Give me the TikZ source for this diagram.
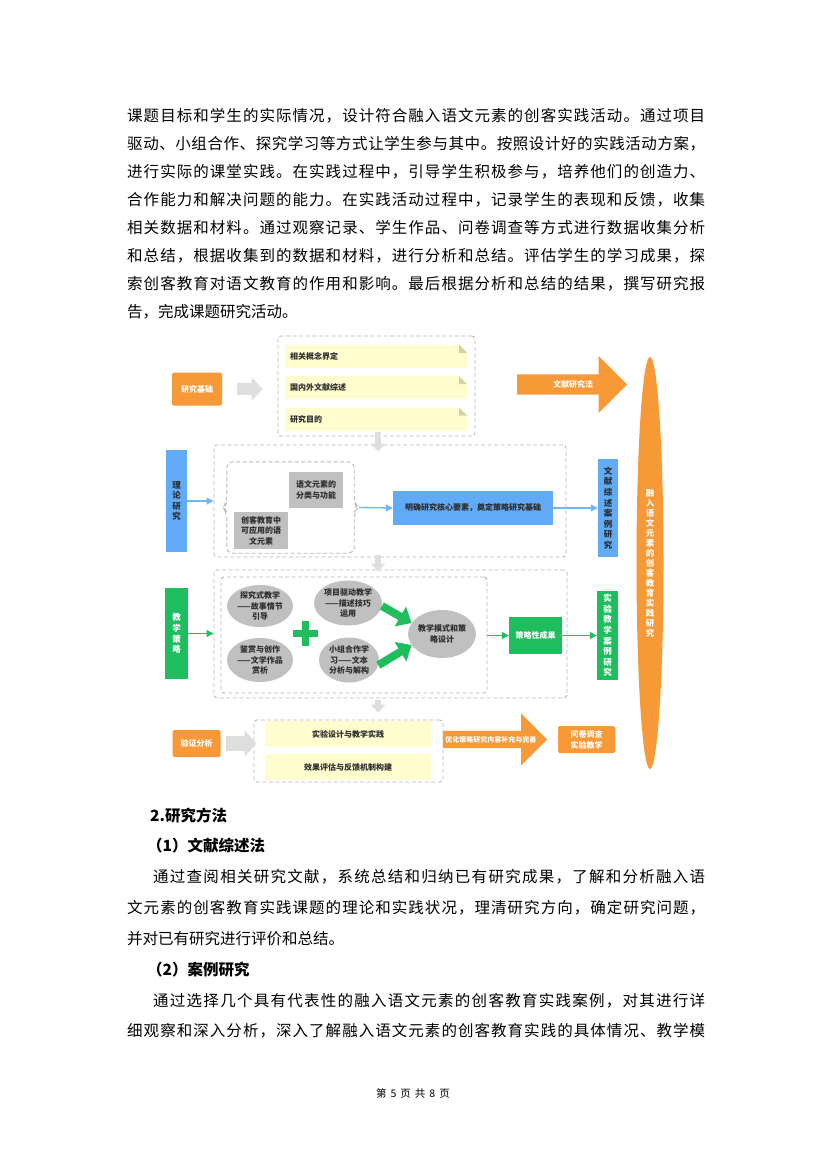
\documentclass[tikz,border=0pt]{standalone}
\usepackage{fontspec}
\setmainfont{Noto Sans CJK SC}
\usepackage{tikz}
\usetikzlibrary{arrows.meta,positioning,shapes.geometric,shapes.arrows}

\definecolor{ora}{RGB}{247,153,55}
\definecolor{blu}{RGB}{96,170,246}
\definecolor{blar}{RGB}{110,182,246}
\definecolor{grn}{RGB}{30,190,95}
\definecolor{ylw}{RGB}{255,253,205}
\definecolor{ear}{RGB}{214,210,160}
\definecolor{dsh}{RGB}{185,185,185}
\definecolor{gbox}{RGB}{192,192,192}
\definecolor{garr}{RGB}{222,222,222}
\definecolor{ink}{RGB}{45,45,45}

% spread the characters of one line over a given width
\makeatletter
\def\spr@ad#1#2\@nil{#1\ifx\relax#2\relax\else\hfill\spr@ad#2\@nil\fi}
\newcommand\jline[2]{\hbox to #1{\spr@ad#2\@nil}}
\makeatother
\newcommand\dgfont{\fontsize{8}{10.5}\selectfont\bfseries}
\newcommand\dogear[1]{%
  \fill[white] (#1.north east) -- ++(-8,0) -- ++(8,8) -- cycle;
  \fill[ear] (#1.north east) ++(-8,0) -- ++(0,8) -- ++(8,0) -- cycle;}

\begin{document}
\begin{tikzpicture}[x=1pt, y=-1pt,
  para/.style={anchor=west, inner sep=0pt, font=\fontsize{15.5}{18}\selectfont},
  hd/.style={para, font=\fontsize{15.5}{18}\selectfont\bfseries},
  tag/.style={fill=ora, text=white, rounded corners=1.5pt, inner sep=0pt, font=\dgfont, align=center},
  vtag/.style={inner sep=0pt, align=center, font=\fontsize{8.5}{10.6}\selectfont\bfseries},
  frame/.style={draw=dsh, dash pattern=on 4pt off 2.5pt, line width=0.9pt, rounded corners=3pt, inner sep=0pt},
  yel/.style={fill=ylw, text=ink, font=\dgfont, inner xsep=5pt, inner ysep=0pt, text width=172pt, align=left, minimum height=23pt},
  yelc/.style={fill=ylw, text=ink, font=\dgfont, inner sep=0pt, minimum width=166pt, minimum height=26pt},
  gry/.style={fill=gbox, text=ink, font=\dgfont, inner sep=0pt, align=center},
  oval/.style={ellipse, fill=gbox, text=ink, font=\dgfont, inner sep=0pt, align=center},
  bigarr/.style={single arrow, fill=ora, text=white, inner sep=0pt, font=\dgfont},
  garrow/.style={draw=garr, line width=12pt, -{Triangle[length=11pt,width=23pt]}},
  gdown/.style={draw=garr, line width=6pt, -{Triangle[length=8pt,width=14pt]}},
  barrow/.style={draw=blar, line width=1.3pt, -{Triangle[length=7pt,width=7pt]}},
  grarrow/.style={draw=grn, line width=1.3pt, -{Triangle[length=7pt,width=7pt]}},
  fat/.style={draw=grn, line width=8pt, -{Triangle[length=13pt,width=22pt]}}
]
\fill[white] (0,0) rectangle (827,1170);
\useasboundingbox (0,0) rectangle (827,1170);

% text above the figure
\node[para] (t1) at (127,116) {\jline{578pt}{课题目标和学生的实际情况，设计符合融入语文元素的创客实践活动。通过项目}};
\node[para] (t2) at (127,144) {\jline{578pt}{驱动、小组合作、探究学习等方式让学生参与其中。按照设计好的实践活动方案，}};
\node[para] (t3) at (127,172) {\jline{578pt}{进行实际的课堂实践。在实践过程中，引导学生积极参与，培养他们的创造力、}};
\node[para] (t4) at (127,200) {\jline{578pt}{合作能力和解决问题的能力。在实践活动过程中，记录学生的表现和反馈，收集}};
\node[para] (t5) at (127,228) {\jline{578pt}{相关数据和材料。通过观察记录、学生作品、问卷调查等方式进行数据收集分析}};
\node[para] (t6) at (127,256) {\jline{578pt}{和总结，根据收集到的数据和材料，进行分析和总结。评估学生的学习成果，探}};
\node[para] (t7) at (127,284) {\jline{578pt}{索创客教育对语文教育的作用和影响。最后根据分析和总结的结果，撰写研究报}};
\node[para] (t8) at (127,312) {告，完成课题研究活动。};

% research basis
\node[tag, minimum width=50pt, minimum height=33pt] (base) at (197,389) {研究基础};
\node[frame, minimum width=197pt, minimum height=100pt] (topf) at (376.5,386) {};
\node[yel] (y1) at (376,356.5) {相关概念界定};
\node[yel, below=8pt of y1] (y2) {国内外文献综述};
\node[yel, below=8pt of y2] (y3) {研究目的};
\dogear{y1}\dogear{y2}\dogear{y3}
\draw[garrow, shorten <=15pt, shorten >=15pt] (base.east) -- (base.east -| topf.west);
\node[bigarr, anchor=west, minimum height=110pt, single arrow head extend=18.5pt, inner ysep=6pt] (lm) at (517,384.5) {\makebox[0pt]{\hspace{12pt}文献研究法}};

% goal
\node[ellipse, fill=ora, text=white, inner sep=0pt, minimum width=27pt, minimum height=412pt,
  font=\fontsize{8.5}{10}\selectfont\bfseries, align=center] (goal) at (650,563)
  {融\\入\\语\\文\\元\\素\\的\\创\\客\\教\\育\\实\\践\\研\\究};

\coordinate (axis) at (378,0);

% theory
\node[vtag, fill=blu, text=ink, minimum width=21pt, minimum height=102pt] (theo) at (176.5,501) {理\\论\\研\\究};
\node[frame, minimum width=352pt, minimum height=112pt] (thf) at (390,501) {};
\node[inner sep=0pt, minimum width=127pt, minimum height=91pt] (in) at (290.5,507.5) {};
\draw[frame, rounded corners=6pt] ([xshift=-4pt]in.west) -- ([yshift=5pt]in.west) -- (in.north west)
  -- (in.north east) -- ([yshift=5pt]in.east) -- ([xshift=4pt]in.east) -- ([yshift=-5pt]in.east)
  -- (in.south east) -- (in.south west) -- ([yshift=-5pt]in.west) -- cycle;
\node[gry, minimum width=54pt, minimum height=36pt] (cls) at (316,490) {语文元素的\\分类与功能};
\node[gry, minimum width=54pt, minimum height=37pt] (app) at (261,530.5) {创客教育中\\可应用的语\\文元素};
\node[fill=blu, text=ink, font=\dgfont, inner sep=0pt, minimum width=160pt, minimum height=34pt] (core) at (473,508) {明确研究核心要素，奠定策略研究基础};
\node[vtag, fill=blu, text=ink, minimum width=20pt, minimum height=98pt] (lit) at (608,508) {文\\献\\综\\述\\案\\例\\研\\究};
\draw[barrow] (theo.east) -- (theo.east -| thf.west);
\draw[barrow] ([xshift=5pt]in.east) -- (core.west);
\draw[barrow] (core.east) -- (core.east -| lit.west);
\draw[gdown, shorten <=-4pt, shorten >=-7pt] (topf.south -| axis) -- (thf.north -| axis);

% teaching strategy
\node[vtag, fill=grn, text=white, minimum width=23pt, minimum height=91pt] (strat) at (176.5,633.5) {教\\学\\策\\略};
\node[frame, minimum width=353pt, minimum height=128pt] (tef) at (390.5,634) {};
\node[frame, minimum width=266pt, minimum height=116pt] (tei) at (354,635) {};
\node[oval, minimum width=66pt, minimum height=42pt] (inq) at (260,606) {探究式教学\\——故事情节\\引导};
\node[oval, minimum width=66pt, minimum height=44pt] (apr) at (260,660) {鉴赏与创作\\——文学作品\\赏析};
\node[oval, minimum width=62pt, minimum height=45pt] (proj) at (348,603) {项目驱动教学\\——描述技巧\\运用};
\node[oval, minimum width=60pt, minimum height=45pt] (grp) at (349,660) {小组合作学\\习——文本\\分析与解构};
\node[oval, minimum width=56pt, minimum height=48pt] (mode) at (442,634) {教学模式和策\\略设计};
\coordinate (plus) at (305,633);
\fill[grn] ([xshift=-12.5pt,yshift=-3.5pt]plus) rectangle ([xshift=12.5pt,yshift=3.5pt]plus);
\fill[grn] ([xshift=-3.5pt,yshift=-12.5pt]plus) rectangle ([xshift=3.5pt,yshift=12.5pt]plus);
\draw[fat] (proj.-5) -- (mode.160);
\draw[fat] (grp.-10) -- (mode.200);
\node[fill=grn, text=white, font=\dgfont, inner sep=0pt, minimum width=53pt, minimum height=37pt] (res) at (535.5,635.5) {策略性成果};
\node[vtag, fill=grn, text=white, minimum width=21pt, minimum height=89pt] (expt) at (607.5,635.5) {实\\验\\教\\学\\案\\例\\研\\究};
\draw[grarrow] (strat.east) -- (strat.east -| tef.west);
\draw[grarrow] (tei.east |- res.west) -- (res.west);
\draw[grarrow] (res.east) -- (res.east -| expt.west);
\draw[gdown, shorten <=-2pt, shorten >=-2pt] (thf.south -| axis) -- (tef.north -| axis);

% verification
\node[tag, minimum width=48pt, minimum height=27pt] (ver) at (196.5,743.5) {验证分析};
\node[frame, minimum width=189pt, minimum height=62pt] (vef) at (348.5,751) {};
\node[yelc] (v1) at (348,734) {实验设计与教学实践};
\node[yelc, below=7pt of v1] (v2) {效果评估与反馈机制构建};
\draw[garrow, line width=15pt, -{Triangle[length=12pt,width=26pt]}, shorten <=5pt, shorten >=-3pt] (ver.east) -- (ver.east -| vef.west);
\draw[gdown, shorten <=2pt, shorten >=7pt] (tef.south -| axis) -- (vef.north -| axis);
\node[bigarr, anchor=west, minimum height=104pt, single arrow head extend=17.5pt, inner ysep=5pt,
  font=\fontsize{7}{8}\selectfont\bfseries] (opt) at (443,739.5) {\makebox[0pt]{优化策略研究内容补充与完善}};
\node[tag, minimum width=57pt, minimum height=27pt, font=\fontsize{8}{11}\selectfont\bfseries] (sur) at (586.5,739.5) {问卷调查\\实验教学};

% text below the figure
\node[hd] (h2) at (150,816) {2.研究方法};
\node[hd] (h21) at (147,846) {（1）文献综述法};
\node[para] (b1) at (153,877) {\jline{552pt}{通过查阅相关研究文献，系统总结和归纳已有研究成果，了解和分析融入语}};
\node[para] (b2) at (127,908) {\jline{578pt}{文元素的创客教育实践课题的理论和实践状况，理清研究方向，确定研究问题，}};
\node[para] (b3) at (127,939) {并对已有研究进行评价和总结。};
\node[hd] (h22) at (147,970) {（2）案例研究};
\node[para] (b4) at (153,1001) {\jline{552pt}{通过选择几个具有代表性的融入语文元素的创客教育实践案例，对其进行详}};
\node[para] (b5) at (127,1031) {\jline{578pt}{细观察和深入分析，深入了解融入语文元素的创客教育实践的具体情况、教学模}};
\node[font=\fontsize{10.5}{12}\selectfont, inner sep=0pt] (foot) at (413,1093)
  {第\hspace{4pt}5\hspace{4pt}页\hspace{4pt}共\hspace{4pt}8\hspace{4pt}页};
\end{tikzpicture}
\end{document}
